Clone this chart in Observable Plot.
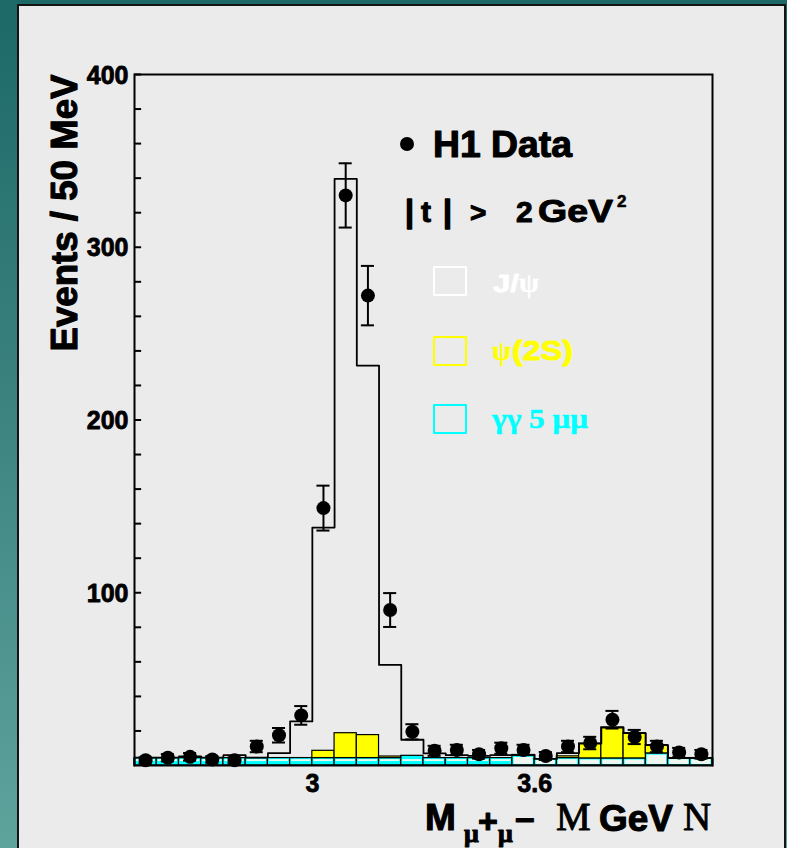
<!DOCTYPE html>
<html>
<head>
<meta charset="utf-8">
<script src="https://cdn.jsdelivr.net/npm/d3@7"></script>
<script src="https://cdn.jsdelivr.net/npm/@observablehq/plot@0.6"></script>
<style>
  html, body { margin: 0; padding: 0; }
  body {
    width: 787px; height: 848px; overflow: hidden; position: relative;
    background: linear-gradient(to bottom, #1c6968 0%, #3a817e 45%, #5fa39d 100%);
  }
  #panel {
    position: absolute; left: 17px; top: 4px; width: 769px; height: 870px;
    background: #ebebeb; border: 2px solid #141414; border-bottom: none; box-sizing: border-box;
  }
  #chart { position: absolute; left: 0; top: 0; }
</style>
</head>
<body>
<div id="panel"></div>
<div id="chart"></div>
<script>
// Dimuon invariant mass, 50 MeV bins from 2.60 to 3.90 GeV
const binStart = [2.60, 2.65, 2.70, 2.75, 2.80, 2.85, 2.90, 2.95, 3.00, 3.05, 3.10, 3.15, 3.20,
                  3.25, 3.30, 3.35, 3.40, 3.45, 3.50, 3.55, 3.60, 3.65, 3.70, 3.75, 3.80, 3.85];
const binWidth = 0.05;

// H1 data: events per bin and their statistical errors
const dataCounts = [3, 4.5, 5, 3.5, 3, 11, 17.5, 29, 149, 330, 272, 90, 19.5,
                    8.5, 9, 6.5, 10, 9, 5.5, 11, 13, 26.5, 16.5, 11, 7.5, 6.5];
const dataErrors = [1.7, 2.1, 2.2, 1.9, 1.7, 3.3, 4.2, 5.4, 13, 18.6, 17.2, 9.8, 4.4,
                    2.9, 3, 2.5, 3.2, 3, 2.3, 3.3, 3.6, 5.1, 4.1, 3.3, 2.7, 2.5];

// Simulation: total (J/psi + psi(2S) + gamma gamma), and the stacked components
const mcTotal = [4.6, 4.6, 5.2, 4.6, 6, 4.6, 7.2, 25.5, 137.7, 339.6, 231.5, 58.2, 14.9,
                 7, 6, 5.6, 6, 6.2, 3.8, 7.2, 12.7, 22, 18.7, 11.8, 4.3, 4.3];
const mcGammaGamma = [4.3, 4.3, 4.3, 4.3, 4.3, 4.3, 4.3, 4.3, 4.3, 4.3, 4.3, 4.3, 5.6,
                      4.3, 4.3, 4.3, 4.3, 5.6, 3.7, 4.3, 4.1, 4.1, 4.1, 7.0, 4.3, 4.3];
const mcPsi2S = [0, 0, 0, 0, 0, 0, 0, 0, 4.2, 14.4, 13.3, 0.9, 0,
                 0, 0, 0, 0, 0.5, 0, 1.0, 8.6, 17.9, 14.6, 4.8, 0, 0];
// light inner band of the gamma gamma histogram
const paleLow  = [2.3, 2.3, 2.3, 2.3, 2.3, 2.3, 2.3, 2.3, 2.3, 2.3, 2.3, 2.3, 2.3,
                  2.3, 2.3, 2.3, 2.3, 0.6, 0.6, 0.6, 0.6, 0.6, 0.6, 0.6, 0.6, 0.6];
const paleHigh = [3.4, 3.4, 3.4, 3.4, 3.4, 3.4, 3.4, 3.4, 3.4, 3.4, 3.4, 3.4, 3.4,
                  3.4, 3.4, 3.4, 3.4, 4.7, 2.9, 3.4, 3.2, 3.2, 3.2, 6.0, 3.4, 3.4];

const yTicks = [100, 200, 300, 400];
const yTickLabels = ["100", "200", "300", "400"];
const yMinorTicks = [20, 40, 60, 80, 120, 140, 160, 180, 220, 240, 260, 280, 320, 340, 360, 380];
const xTicks = [3.0, 3.5];
const xTickLabels = ["3", "3.6"];

const bins = binStart.map((x0, i) => ({
  x0, x1: x0 + binWidth, xc: x0 + binWidth / 2,
  n: dataCounts[i], err: dataErrors[i],
  tot: mcTotal[i], gg: mcGammaGamma[i], psi: mcPsi2S[i],
  pLo: paleLow[i], pHi: paleHigh[i]
}));

// outline of the summed simulation as a step histogram
const xMin = binStart[0], xMax = binStart[binStart.length - 1] + binWidth;
const step = [{x: xMin, y: 0}];
bins.forEach(b => { step.push({x: b.x0, y: b.tot}); step.push({x: b.x1, y: b.tot}); });
step.push({x: xMax, y: 0});

const SANS = '"Liberation Sans", Arial, Helvetica, sans-serif';
const SERIF = '"Liberation Serif", "Times New Roman", serif';
const heavy = {fontFamily: SANS, fontWeight: "bold", fill: "black", stroke: "black", strokeWidth: 0.8};
const capHalf = 0.0147;

const plot = Plot.plot({
  width: 787, height: 848,
  marginLeft: 134, marginRight: 75, marginTop: 74, marginBottom: 83,
  style: {background: "transparent", overflow: "visible"},
  x: {domain: [xMin, xMax], axis: null},
  y: {domain: [0, 400], axis: null},
  marks: [
    Plot.rect(bins, {x1: "x0", x2: "x1", y1: 0, y2: "gg", fill: "#00ffff", stroke: "black", strokeWidth: 1.2}),
    Plot.rect(bins, {x1: "x0", x2: "x1", y1: "pLo", y2: "pHi", fill: "#eef7f0", insetLeft: 1.5, insetRight: 1.5}),
    Plot.rect(bins.filter(b => b.psi > 0), {x1: "x0", x2: "x1", y1: "gg", y2: d => d.gg + d.psi,
      fill: "#ffff00", stroke: "black", strokeWidth: 1.2}),
    Plot.line(step, {x: "x", y: "y", stroke: "black", strokeWidth: 1.8}),
    Plot.ruleX(bins, {x: "xc", y1: d => d.n - d.err, y2: d => d.n + d.err, stroke: "black", strokeWidth: 2}),
    Plot.ruleY(bins, {y: d => d.n + d.err, x1: d => d.xc - capHalf, x2: d => d.xc + capHalf, stroke: "black", strokeWidth: 2}),
    Plot.ruleY(bins, {y: d => d.n - d.err, x1: d => d.xc - capHalf, x2: d => d.xc + capHalf, stroke: "black", strokeWidth: 2}),
    Plot.dot(bins, {x: "xc", y: "n", r: 7, fill: "black"}),
    Plot.frame({stroke: "black", strokeWidth: 2}),
    Plot.ruleY(yMinorTicks.concat(yTicks), {y: d => d, x1: xMin, x2: xMin + 0.016, stroke: "black", strokeWidth: 2}),
    Plot.text(yTicks, {x: xMin, y: d => d, text: (d, i) => yTickLabels[i], textAnchor: "end", dx: -6, dy: 1, fontSize: 25, ...heavy}),
    Plot.text(xTicks, {x: d => d, y: 0, text: (d, i) => xTickLabels[i], dy: 18, fontSize: 25, ...heavy})
  ]
});
document.getElementById("chart").appendChild(plot);

// titles and legend
const svg = d3.select(plot);
const g = svg.append("g").attr("stroke-linejoin", "round");

function txt(x, y, s, o = {}) {
  const t = g.append("text").attr("x", x).attr("y", y).text(s)
    .attr("font-family", o.family || SANS)
    .attr("font-weight", o.weight || "bold")
    .attr("font-size", o.size || 25)
    .attr("fill", o.fill || "black")
    .attr("stroke", o.stroke === undefined ? (o.fill || "black") : o.stroke)
    .attr("stroke-width", o.sw === undefined ? 0.8 : o.sw)
    .attr("text-anchor", o.anchor || "start");
  if (o.len) t.attr("textLength", o.len).attr("lengthAdjust", "spacingAndGlyphs");
  return t;
}

// y-axis title
txt(0, 0, "Events / 50 MeV", {size: 36, anchor: "middle", sw: 1.1, len: 277})
  .attr("transform", "translate(77,213) rotate(-90)");

// x-axis title
txt(425, 830, "M", {size: 37, sw: 1.1});
txt(464, 842, "\u03bc", {size: 26, family: SERIF, sw: 1});
txt(478, 833, "+", {size: 34, sw: 1});
txt(498, 842, "\u03bc", {size: 26, family: SERIF, sw: 1});
txt(515, 830, "\u2212", {size: 30, sw: 1, len: 20});
txt(556, 830, "M", {size: 39, family: SERIF, weight: "normal", sw: 0.9});
txt(599, 831, "GeV", {size: 37, sw: 1.1, len: 74});
txt(683, 830, "N", {size: 39, family: SERIF, weight: "normal", sw: 0.9});

// legend: data marker
g.append("circle").attr("cx", 407).attr("cy", 144).attr("r", 7).attr("fill", "black");
txt(433, 157, "H1 Data", {size: 37, sw: 1.1, len: 139});

// legend: |t| cut
txt(405, 222, "|", {size: 32, sw: 1.4});
txt(421, 222, "t", {size: 30, sw: 1});
txt(443, 222, "|", {size: 32, sw: 1.4});
txt(470, 222, ">", {size: 28, sw: 1});
txt(516, 222, "2", {size: 30, sw: 1});
txt(538, 222, "GeV", {size: 32, sw: 1, len: 75});
txt(617, 207, "2", {size: 17, sw: 0.6});

// legend: simulation components
const entries = [
  {y: 267, color: "#ffffff"},
  {y: 337, color: "#ffff00"},
  {y: 405, color: "#00ffff"}
];
entries.forEach(e => {
  g.append("rect").attr("x", 434).attr("y", e.y).attr("width", 32).attr("height", 28)
    .attr("fill", "none").attr("stroke", e.color).attr("stroke-width", 2);
});
txt(493, 292, "J/", {size: 24, fill: "#ffffff", sw: 0.8, len: 26});
txt(519, 292, "\u03c8", {size: 27, family: SERIF, weight: "bold", fill: "#ffffff", sw: 0.4, len: 20});
txt(492, 360, "\u03c8", {size: 27, family: SERIF, weight: "bold", fill: "#ffff00", sw: 0.5, len: 19});
txt(512, 360, "(2S)", {size: 27, fill: "#ffff00", sw: 0.9, len: 61});
txt(492, 428, "\u03b3\u03b3 5 \u03bc\u03bc", {size: 27, family: SERIF, weight: "bold", fill: "#00ffff", sw: 0.5, len: 96});
</script>
</body>
</html>
